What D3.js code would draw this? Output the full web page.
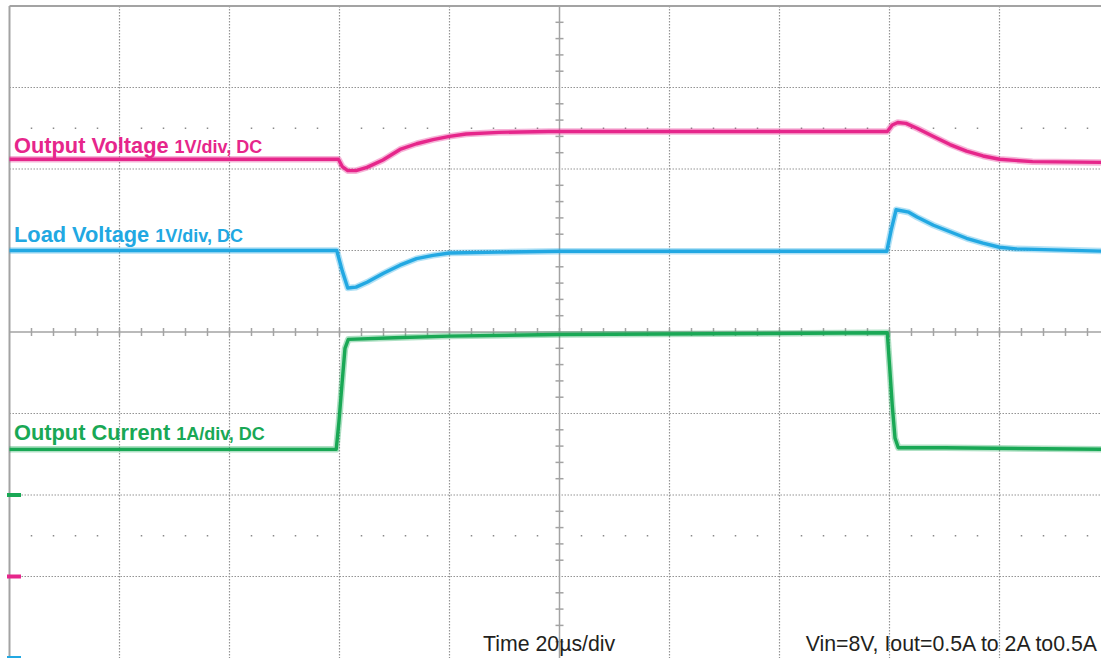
<!DOCTYPE html>
<html>
<head>
<meta charset="utf-8">
<script src="https://cdn.jsdelivr.net/npm/d3@7"></script>
<style>
  html, body { margin: 0; padding: 0; background: #fff; }
  svg { display: block; }
</style>
</head>
<body>
<div id="scope"></div>
<script>
const WIDTH = 1101;
const HEIGHT = 658;
const COLOR = {
  outV: '#e6268b',
  loadV: '#22a8e2',
  current: '#19a855',
  grid: '#949494',
  frame: '#a3a3a3',
  text: '#231f20',
};

// time axis: 10 divisions of 20us, vertical: 8 divisions
const TIME_DIV = 20;
const X_DIVS = 10;
const Y_DIVS = 8;

// channel setup: ground marker position (divisions from centre) and units per div
const channels = ['Output Voltage', 'Load Voltage', 'Output Current'];
const channelUnits = ['1V/div, DC', '1V/div, DC', '1A/div, DC'];
const channelGround = [-3, -4, -2];
const channelPerDiv = [1, 1, 1];

// traces: [time us, value]
const outputVoltage = [
  [0, 5.12], [59.8, 5.12], [60.5, 5.03], [61.5, 4.98], [63, 4.98], [65, 5.02],
  [67.9, 5.11], [71, 5.24], [74, 5.31], [77, 5.36], [80, 5.40], [83, 5.43],
  [89, 5.45], [98, 5.46], [159.6, 5.46], [160.5, 5.54], [161.5, 5.57], [163, 5.56],
  [165, 5.50], [168, 5.40], [171, 5.30], [174, 5.22], [177, 5.16], [180, 5.12],
  [186, 5.09], [200, 5.08],
];
const loadVoltage = [
  [0, 5.0], [59.5, 5.0], [60.5, 4.75], [61.5, 4.54], [63, 4.55], [65, 4.61],
  [68, 4.72], [71, 4.82], [74, 4.90], [77, 4.94], [80, 4.97], [89, 4.98],
  [100, 4.99], [159.5, 4.99], [160.3, 5.25], [161.2, 5.50], [163.5, 5.47],
  [165, 5.41], [168, 5.31], [171, 5.23], [174, 5.15], [177, 5.09], [180, 5.04],
  [183, 5.02], [200, 4.99],
];
const outputCurrent = [
  [0, 0.56], [59.4, 0.56], [59.9, 0.9], [60.5, 1.4], [61, 1.8], [61.6, 1.91],
  [70, 1.93], [80, 1.95], [100, 1.97], [159.6, 1.99], [160, 1.6], [160.5, 1.1],
  [161, 0.7], [161.6, 0.58], [170, 0.58], [200, 0.56],
];
const traces = [outputVoltage, loadVoltage, outputCurrent];
const traceColors = [COLOR.outV, COLOR.loadV, COLOR.current];

const footerLeft = 'Time 20\u00b5s/div';
const footerRight = 'Vin=8V, Iout=0.5A to 2A to0.5A';

const x = d3.scaleLinear()
  .domain([0, X_DIVS * TIME_DIV])
  .range([9.5, 1109.5]);
const yDiv = d3.scaleLinear()
  .domain([-Y_DIVS / 2, Y_DIVS / 2])
  .range([658, 6]);

const svg = d3.select('#scope').append('svg')
  .attr('width', WIDTH)
  .attr('height', HEIGHT);

const g = svg.append('g').attr('class', 'grid');

// dotted grid lines
const vLines = d3.range(1, X_DIVS).filter(i => i !== X_DIVS / 2);
const hLines = d3.range(-Y_DIVS / 2 + 1, Y_DIVS / 2).filter(i => i !== 0);
g.selectAll('.vgrid').data(vLines).enter().append('line')
  .attr('x1', d => x(d * TIME_DIV)).attr('x2', d => x(d * TIME_DIV))
  .attr('y1', yDiv(4)).attr('y2', yDiv(-4))
  .attr('stroke', COLOR.grid).attr('stroke-width', 1.2)
  .attr('stroke-dasharray', '1.5,1.5');
g.selectAll('.hgrid').data(hLines).enter().append('line')
  .attr('x1', x(0)).attr('x2', WIDTH)
  .attr('y1', d => yDiv(d)).attr('y2', d => yDiv(d))
  .attr('stroke', COLOR.grid).attr('stroke-width', 1.2)
  .attr('stroke-dasharray', '1.5,1.5');

// dot rows at +/-2.5 div
const minorX = d3.range(0, X_DIVS * 5 + 1).filter(i => i % 5 !== 0);
[2.5, -2.5].forEach(row => {
  g.selectAll(null).data(minorX).enter().append('rect')
    .attr('x', d => x(d * TIME_DIV / 5) - 0.75)
    .attr('y', yDiv(row) - 0.75)
    .attr('width', 1.5).attr('height', 1.5)
    .attr('fill', '#8a8a8a');
});

// centre cross with ticks
g.append('line')
  .attr('x1', x(X_DIVS / 2 * TIME_DIV)).attr('x2', x(X_DIVS / 2 * TIME_DIV))
  .attr('y1', yDiv(4)).attr('y2', yDiv(-4))
  .attr('stroke', COLOR.frame).attr('stroke-width', 1.5);
g.append('line')
  .attr('x1', x(0)).attr('x2', WIDTH)
  .attr('y1', yDiv(0)).attr('y2', yDiv(0))
  .attr('stroke', COLOR.frame).attr('stroke-width', 1.5);
const yTicks = d3.range(-Y_DIVS * 5 / 2, Y_DIVS * 5 / 2 + 1).filter(i => i % 5 !== 0);
g.selectAll('.ytick').data(yTicks).enter().append('line')
  .attr('x1', x(100) - 4).attr('x2', x(100) + 4)
  .attr('y1', d => yDiv(d / 5)).attr('y2', d => yDiv(d / 5))
  .attr('stroke', COLOR.frame).attr('stroke-width', 1.5);
g.selectAll('.xtick').data(d3.range(1, X_DIVS * 5)).enter().append('line')
  .attr('x1', d => x(d * TIME_DIV / 5)).attr('x2', d => x(d * TIME_DIV / 5))
  .attr('y1', yDiv(0) - 4).attr('y2', yDiv(0) + 4)
  .attr('stroke', COLOR.frame).attr('stroke-width', 1.5);

// frame
g.append('line')
  .attr('x1', x(0)).attr('x2', WIDTH)
  .attr('y1', yDiv(4)).attr('y2', yDiv(4))
  .attr('stroke', COLOR.frame).attr('stroke-width', 2);
g.append('line')
  .attr('x1', x(0)).attr('x2', x(0))
  .attr('y1', yDiv(4)).attr('y2', HEIGHT)
  .attr('stroke', COLOR.frame).attr('stroke-width', 2);

// traces
const traceG = svg.append('g').attr('class', 'traces');
traces.forEach((data, i) => {
  const y = d3.scaleLinear()
    .domain([0, channelPerDiv[i]])
    .range([yDiv(channelGround[i]), yDiv(channelGround[i] + 1)]);
  const line = d3.line()
    .x(d => x(d[0]))
    .y(d => y(d[1]));
  traceG.append('path')
    .datum(data)
    .attr('d', line)
    .attr('fill', 'none')
    .attr('stroke', traceColors[i])
    .attr('stroke-opacity', 0.35)
    .attr('stroke-width', 6.5)
    .attr('stroke-linejoin', 'round');
  traceG.append('path')
    .datum(data)
    .attr('d', line)
    .attr('fill', 'none')
    .attr('stroke', traceColors[i])
    .attr('stroke-width', 3.4)
    .attr('stroke-linejoin', 'round');

  // ground marker on the left edge
  traceG.append('rect')
    .attr('x', 7).attr('y', yDiv(channelGround[i]) - 2)
    .attr('width', 14).attr('height', 4)
    .attr('fill', traceColors[i]);
});

// channel labels
const labelBase = [153, 242, 440];
channels.forEach((name, i) => {
  const t = svg.append('text')
    .attr('x', 14).attr('y', labelBase[i])
    .attr('fill', traceColors[i])
    .attr('font-family', 'Liberation Sans, Arial, sans-serif')
    .attr('font-weight', 'bold');
  t.append('tspan').attr('font-size', 21.8).text(name);
  t.append('tspan').attr('font-size', 18).attr('dx', 6).text(channelUnits[i]);
});

// footer
svg.append('text')
  .attr('x', 483).attr('y', 651)
  .attr('fill', COLOR.text)
  .attr('font-family', 'Liberation Sans, Arial, sans-serif')
  .attr('font-size', 21.3)
  .text(footerLeft);
svg.append('text')
  .attr('x', 1097).attr('y', 651)
  .attr('text-anchor', 'end')
  .attr('fill', COLOR.text)
  .attr('font-family', 'Liberation Sans, Arial, sans-serif')
  .attr('font-size', 21.3)
  .text(footerRight);
</script>
</body>
</html>
